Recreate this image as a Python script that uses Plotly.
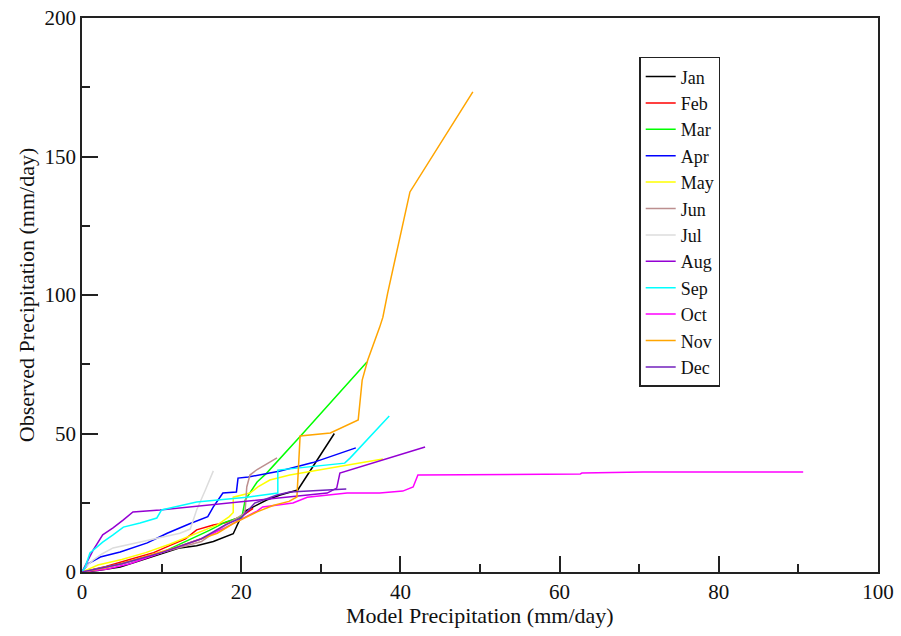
import plotly.graph_objects as go

months = ["Jan", "Feb", "Mar", "Apr", "May", "Jun", "Jul", "Aug", "Sep", "Oct", "Nov", "Dec"]
colors = ["#000000", "#ff0000", "#00ff00", "#0000ff", "#ffff00", "#bc8f8f",
          "#dcdcdc", "#9400d3", "#00ffff", "#ff00ff", "#ffa500", "#7221bc"]

jan_x = [0, 2, 4.8, 8.2, 10, 12.3, 14.4, 16.5, 19, 19.8, 20.5, 23.2, 24.9, 27.1, 31.7]
jan_y = [0, 0.5, 1.8, 5, 6.5, 8.7, 9.5, 11, 13.8, 18.8, 22, 26, 27.8, 29.6, 50]

feb_x = [0, 3, 6, 9, 11, 13, 14.4, 15.7, 16.5, 18, 20, 21.5]
feb_y = [0, 2, 4.5, 7, 9.5, 12, 15.2, 16.2, 17, 17.8, 20, 23]

mar_x = [0, 5, 10, 13, 16, 18, 20.1, 20.5, 22, 23.2, 27.4, 35.8]
mar_y = [0, 3, 7, 11, 15, 18, 20, 26, 32.5, 35.7, 48.9, 75.8]

apr_x = [0, 0.8, 2.3, 4.8, 8.2, 10.7, 13.6, 15.8, 16.5, 17.7, 19.4, 19.6, 20.9, 24.9, 29, 34.4]
apr_y = [0, 3, 5.4, 7.2, 10.5, 14, 17.5, 20, 23.5, 28.5, 28.9, 33.9, 34.3, 36.5, 39.5, 44.8]

may_x = [0, 2, 5, 8, 11, 14, 17, 18.5, 19, 19, 21.1, 22.1, 23.6, 26.1, 33.3, 37.8]
may_y = [0, 2.5, 4.5, 7, 10, 13.5, 17, 20, 21.5, 27, 28.5, 30.7, 33.2, 35, 38.6, 40.8]

jun_x = [0, 5, 10, 15, 17, 19, 20.3, 20.5, 20.7, 21.1, 22, 24.5]
jun_y = [0, 3, 7, 11, 15, 18.5, 21, 22.4, 30.7, 35, 37, 41.2]

jul_x = [0, 0.5, 1.4, 2.5, 3.9, 6, 8.2, 10.5, 12.3, 13.6, 14.4, 15.5, 16.5]
jul_y = [0, 2, 4.3, 6.5, 8.7, 10, 11.6, 13, 14, 15.5, 22.4, 29.6, 36.5]

aug_x = [0, 0.6, 1.4, 2.6, 3.9, 5.2, 6.4, 9.8, 13.6, 19, 22.7, 30.8, 32, 32.4, 43.1]
aug_y = [0, 3.2, 7.9, 13.4, 15.9, 18.8, 21.7, 22.4, 23.5, 24.9, 26, 28.5, 30.3, 35.7, 45.1]

sep_x = [0, 0.4, 1, 2.6, 3.9, 5.2, 7.3, 9.4, 10, 13.6, 14.4, 20.7, 24.6, 24.6, 33, 33.7, 38.6]
sep_y = [0, 1.8, 6.9, 10.8, 13.4, 16.2, 17.7, 19.5, 22.4, 24.9, 25.3, 27, 28.5, 36.8, 39.3, 41.2, 56.3]

oct_x = [0, 3, 6, 9, 12, 15, 18, 20, 22, 22.7, 24.5, 26.5, 28.3, 33.3, 37.4, 40.3, 41.6, 42.2, 62.6, 62.8, 70.5, 90.6]
oct_y = [0, 1, 3, 6, 9, 12, 16, 19, 22, 23.5, 24.2, 24.9, 27, 28.5, 28.5, 29.2, 30.7, 35, 35.4, 35.7, 36.1, 36.1]

nov_x = [0, 3, 6, 9, 12, 15, 17, 19, 21, 22, 24, 26, 27, 27.4, 31.2, 34.7, 35.2, 35.9, 37.4, 37.8, 38.4, 40.2, 41.2, 49.1]
nov_y = [0, 1.5, 4, 6.5, 9, 12, 14, 17.5, 20.5, 21.7, 24, 25.5, 27.1, 49.1, 50.2, 54.9, 69.3, 76.5, 88.4, 92, 100.7, 123.5, 137.2, 173.3]

dec_x = [0, 5, 10, 15, 18, 20, 21.7, 24.5, 26.1, 30, 33.2]
dec_y = [0, 3, 7, 12, 17, 19.5, 24.9, 27.8, 28.9, 29.5, 30]

xs = [jan_x, feb_x, mar_x, apr_x, may_x, jun_x, jul_x, aug_x, sep_x, oct_x, nov_x, dec_x]
ys = [jan_y, feb_y, mar_y, apr_y, may_y, jun_y, jul_y, aug_y, sep_y, oct_y, nov_y, dec_y]

x_ticks = [0, 20, 40, 60, 80, 100]
y_ticks = [0, 50, 100, 150, 200]

fig = go.Figure()
for name, c, x, y in zip(months, colors, xs, ys):
    fig.add_trace(go.Scatter(x=x, y=y, mode="lines", name=name,
                             line=dict(color=c, width=1.5)))

font_family = "Liberation Serif"
axis_common = dict(showline=True, linecolor="#222222", linewidth=1.5, mirror=True,
                   ticks="inside", ticklen=16, tickwidth=1.5, tickcolor="#222222",
                   showgrid=False, zeroline=False, automargin=False,
                   tickfont=dict(family=font_family, size=21, color="#111111"),
                   title_font=dict(family=font_family, size=22, color="#111111"))

fig.update_layout(
    width=901, height=636,
    margin=dict(l=82, r=23, t=18, b=64, autoexpand=False),
    paper_bgcolor="white", plot_bgcolor="white",
    showlegend=True,
    legend=dict(x=0.70, y=0.93, xanchor="left", yanchor="top",
                bordercolor="#222222", borderwidth=1.5, bgcolor="white",
                font=dict(family=font_family, size=18, color="#111111"),
                itemwidth=30, tracegroupgap=0, entrywidth=56, entrywidthmode="pixels"),
    xaxis=dict(range=[0, 100], tickvals=x_ticks,
               minor=dict(dtick=10, ticklen=8, ticks="inside", tickcolor="#222222", tickwidth=1.5),
               **axis_common),
    yaxis=dict(range=[0, 200], tickvals=y_ticks,
               minor=dict(dtick=25, ticklen=8, ticks="inside", tickcolor="#222222", tickwidth=1.5),
               title=dict(text="Observed Precipitation (mm/day)", standoff=4),
               **axis_common),
    annotations=[dict(text="Model Precipitation (mm/day)", xref="paper", yref="paper",
                      x=0.5, y=-0.078, xanchor="center", yanchor="middle", showarrow=False,
                      font=dict(family=font_family, size=22, color="#111111"))],
)

fig.write_html("out.html")
